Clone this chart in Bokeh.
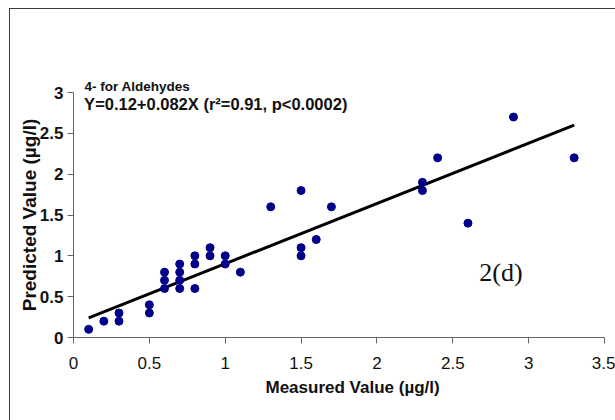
from bokeh.plotting import figure
from bokeh.models import Range1d, Label, FixedTicker, Title
from bokeh.embed import file_html
from bokeh.resources import INLINE

# measured vs predicted (µg/l)
measured = [0.1, 0.2, 0.3, 0.3, 0.5, 0.5, 0.6, 0.6, 0.6, 0.7, 0.7, 0.7, 0.7,
            0.8, 0.8, 0.8, 0.9, 0.9, 1.0, 1.0, 1.1, 1.3, 1.5, 1.5, 1.5, 1.6,
            1.7, 2.3, 2.3, 2.4, 2.6, 2.9, 3.3]
predicted = [0.1, 0.2, 0.2, 0.3, 0.3, 0.4, 0.6, 0.7, 0.8, 0.6, 0.7, 0.8, 0.9,
             0.6, 0.9, 1.0, 1.0, 1.1, 0.9, 1.0, 0.8, 1.6, 1.8, 1.0, 1.1, 1.2,
             1.6, 1.8, 1.9, 2.2, 1.4, 2.7, 2.2]
trend_x = [0.1, 3.3]
trend_y = [0.24, 2.60]
x_ticks = [0, 0.5, 1, 1.5, 2, 2.5, 3, 3.5]
y_ticks = [0, 0.5, 1, 1.5, 2, 2.5, 3]

FONT = "Liberation Sans, Arial, sans-serif"

p = figure(width=606, height=412, output_backend="svg", toolbar_location=None,
           x_range=Range1d(0, 3.5), y_range=Range1d(0, 3),
           min_border_left=63, min_border_right=12, min_border_top=83,
           min_border_bottom=84, background_fill_color="white",
           border_fill_color="white", outline_line_color=None,
           title="4- for Aldehydes")
p.margin = (8, 0, 0, 9)
p.styles = {"border-left": "1px solid #3a3a3a", "border-top": "1px solid #3a3a3a"}

p.title.align = "left"
p.title.offset = 11
p.title.standoff = -3
p.title.text_font = FONT
p.title.text_font_size = "13.5px"
p.title.text_font_style = "bold"
p.title.text_color = "#111111"

p.xgrid.visible = False
p.ygrid.visible = False

p.xaxis.ticker = FixedTicker(ticks=x_ticks)
p.yaxis.ticker = FixedTicker(ticks=y_ticks)
p.xaxis.minor_tick_line_color = None
p.yaxis.minor_tick_line_color = None
for ax in (p.xaxis, p.yaxis):
    ax.axis_line_color = "#666666"
    ax.major_tick_line_color = "#666666"
    ax.major_tick_out = 6
    ax.major_tick_in = 0
    ax.major_label_text_color = "#111111"
    ax.major_label_text_font = FONT
    ax.axis_label_text_font = FONT
    ax.axis_label_text_font_style = "bold"
    ax.axis_label_text_color = "#111111"

p.xaxis.major_label_text_font_size = "17px"
p.xaxis.major_label_standoff = 13

xlabel = Title(text="Measured Value (µg/l)", align="left", offset=192,
               standoff=9, text_font=FONT, text_font_size="17px",
               text_font_style="bold", text_color="#111111")
p.add_layout(xlabel, "below")

p.yaxis.major_label_text_font_size = "17px"
p.yaxis.major_label_text_font_style = "bold"
p.yaxis.major_label_standoff = 4
p.yaxis.axis_label = "Predicted Value (µg/l)"
p.yaxis.axis_label_text_font_size = "19px"
p.yaxis.axis_label_standoff = -3

p.line(trend_x, trend_y, line_color="black", line_width=3)
p.scatter(measured, predicted, size=8, fill_color="#000088", line_color="#000088")

p.add_layout(Label(x=0.07, y=2.86, text="Y=0.12+0.082X (r²=0.91, p<0.0002)",
                   text_font=FONT, text_font_size="16.5px", text_font_style="bold",
                   text_color="#111111", text_baseline="alphabetic"))
p.add_layout(Label(x=2.675, y=0.80, text="2(d)",
                   text_font="Liberation Serif, Times New Roman, serif",
                   text_font_size="26px", text_color="#111111",
                   text_baseline="alphabetic"))

open("out.html", "w").write(file_html(p, INLINE))
